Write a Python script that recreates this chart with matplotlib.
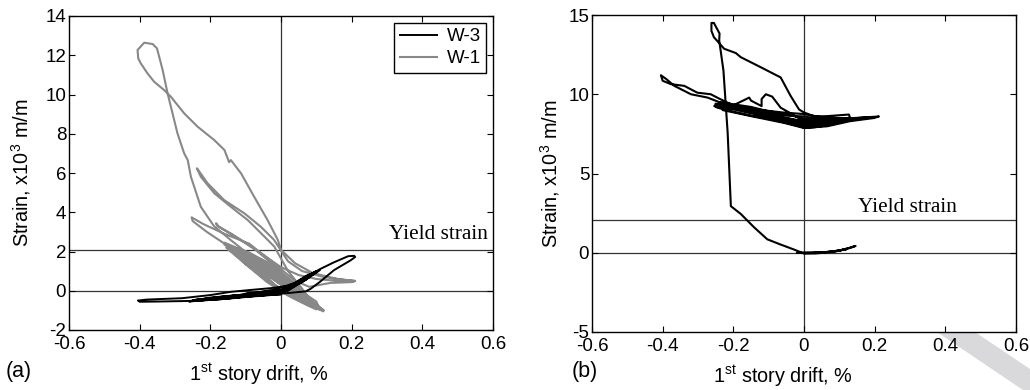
import numpy as np
import matplotlib
matplotlib.use("Agg")
import matplotlib.pyplot as plt
from matplotlib.patches import Polygon

plt.rcParams['font.family'] = ['Liberation Sans', 'DejaVu Sans']
plt.rcParams['mathtext.fontset'] = 'custom'
plt.rcParams['mathtext.rm'] = 'Liberation Sans'
plt.rcParams['axes.unicode_minus'] = False

# ---- data (drift %, strain x10^3) ----
yield_strain = 2.07

# W-1, panel (a): small cycles inside the dense band
w1_small = [
    (0.00, 0.00), (-0.04, 0.70), (-0.08, 1.30), (-0.10, 1.55), (-0.06, 0.85),
    (0.00, 0.00), (0.04, -0.40), (0.07, -0.65), (0.04, -0.25), (0.00, 0.35),
    (-0.06, 1.20), (-0.11, 1.80), (-0.14, 2.05), (-0.10, 1.35), (-0.04, 0.45),
    (0.02, -0.25), (0.07, -0.70), (0.10, -0.95), (0.08, -0.60), (0.03, 0.05),
    (-0.03, 0.95), (-0.09, 1.75), (-0.15, 2.20), (-0.12, 1.70), (-0.06, 0.80),
    (0.01, -0.10), (0.06, -0.55), (0.12, -1.05), (0.11, -0.85), (0.06, -0.20),
    (0.01, 0.60), (-0.05, 1.45), (-0.12, 2.15), (-0.16, 2.45), (-0.13, 1.95),
    (-0.08, 1.10), (-0.02, 0.30), (0.04, -0.35), (0.09, -0.80), (0.11, -0.95),
    (0.08, -0.55), (0.03, 0.20), (-0.03, 1.05), (-0.10, 1.85), (-0.15, 2.30),
    (-0.11, 1.55), (-0.05, 0.65), (0.02, -0.20), (0.08, -0.75), (0.12, -1.00),
]
# W-1, more cycles filling the grey band
w1_band = [
    (0.10, -0.70), (0.05, -0.20), (0.00, 0.35), (-0.05, 0.95), (-0.10, 1.55),
    (-0.15, 2.10), (-0.10, 1.80), (-0.05, 1.30), (0.00, 0.70), (0.05, 0.05),
    (0.10, -0.55), (0.11, -0.95), (0.10, -0.85), (0.05, -0.40), (0.00, 0.10),
    (-0.05, 0.70), (-0.10, 1.35), (-0.14, 2.10), (-0.10, 1.70), (-0.05, 1.10),
    (0.00, 0.50), (0.06, -0.30), (0.12, -1.00), (0.10, -0.90), (0.05, -0.50),
    (0.00, 0.00), (-0.06, 0.90), (-0.11, 1.50), (-0.155, 2.20), (-0.13, 2.15),
    (-0.08, 1.75), (-0.02, 1.10), (0.03, 0.40), (0.08, -0.35), (0.10, -0.75),
    (0.06, -0.35), (0.01, 0.20), (-0.04, 0.85), (-0.09, 1.45), (-0.15, 2.30),
    (-0.09, 1.95), (-0.03, 1.35), (0.02, 0.60), (0.07, -0.15), (0.09, -0.55),
    (0.05, -0.10), (0.00, 0.45), (-0.05, 1.05), (-0.10, 1.65), (-0.16, 2.35),
    (-0.12, 2.10), (-0.05, 1.55), (0.00, 0.95), (0.05, 0.20), (0.08, -0.60),
    (0.12, -0.98), (0.04, -0.15), (-0.02, 0.55), (-0.07, 1.20), (-0.12, 1.80),
    (-0.07, 1.45), (-0.02, 0.90), (0.03, 0.10), (0.07, -0.45), (0.11, -0.90),
]
# W-1, medium excursions (peaks at 3.4, 3.7 and 6.2)
w1_medium = [
    (0.07, -0.30), (0.03, 0.40), (-0.02, 1.30), (-0.08, 2.20), (-0.14, 2.90),
    (-0.18, 3.30), (-0.184, 3.44), (-0.175, 3.25), (-0.12, 2.65), (-0.06, 1.95),
    (0.00, 1.20), (0.05, 0.80), (0.10, 0.60), (0.16, 0.50), (0.207, 0.47),
    (0.20, 0.44), (0.14, 0.40), (0.08, 0.20), (0.04, 0.50), (-0.02, 1.40),
    (-0.09, 2.40), (-0.16, 2.90), (-0.22, 3.40), (-0.253, 3.74), (-0.25, 3.55),
    (-0.21, 3.00), (-0.16, 2.40), (-0.11, 1.80), (-0.05, 1.00), (0.00, 0.30),
    (0.05, -0.30), (0.09, -0.65), (0.06, 0.10), (0.02, 1.00), (-0.019, 2.25),
    (-0.047, 2.76), (-0.094, 3.60), (-0.142, 4.28), (-0.189, 4.97), (-0.227, 5.81),
    (-0.238, 6.24), (-0.231, 6.07), (-0.208, 5.48), (-0.161, 4.62), (-0.104, 3.95),
    (-0.057, 3.26), (-0.02, 2.60), (0.02, 1.50), (0.06, 1.00), (0.12, 0.70),
    (0.18, 0.55), (0.21, 0.50),
]
# W-1, the large excursion up to 12.6
w1_large = [
    (0.16, 0.60), (0.09, 0.90), (0.04, 1.40), (0.00, 2.08), (-0.009, 2.59),
    (-0.038, 3.60), (-0.076, 4.79), (-0.113, 5.98), (-0.142, 6.66), (-0.147, 6.55),
    (-0.16, 7.17), (-0.189, 7.68), (-0.236, 8.36), (-0.274, 9.04), (-0.312, 9.89),
    (-0.331, 10.23), (-0.359, 10.65), (-0.378, 11.08), (-0.397, 11.59), (-0.404, 11.84),
    (-0.406, 12.27), (-0.387, 12.64), (-0.363, 12.57), (-0.351, 12.35), (-0.345, 11.93),
    (-0.335, 11.25), (-0.321, 10.06), (-0.307, 9.04), (-0.293, 8.02), (-0.274, 7.00),
    (-0.264, 6.66), (-0.255, 5.81), (-0.227, 4.28), (-0.19, 3.30), (-0.14, 2.55),
    (-0.08, 1.70), (-0.02, 0.80), (0.04, 0.00), (0.08, -0.50), (0.10, -0.70),
]

# W-3, panel (a)
w3_cycles = [
    (0.00, 0.00), (-0.05, -0.05), (-0.10, -0.15), (-0.05, -0.10), (0.00, -0.05),
    (0.04, 0.30), (0.06, 0.45), (0.03, 0.20), (0.00, -0.10), (-0.08, -0.20),
    (-0.15, -0.30), (-0.20, -0.38), (-0.25, -0.50), (-0.24, -0.45), (-0.15, -0.28),
    (-0.05, -0.12), (0.00, 0.00), (0.05, 0.45), (0.08, 0.75), (0.10, 0.95),
    (0.07, 0.55), (0.04, 0.25), (0.00, -0.15), (-0.10, -0.30), (-0.20, -0.45),
    (-0.26, -0.55), (-0.20, -0.35), (-0.10, -0.18), (-0.02, 0.05), (0.04, 0.40),
    (0.10, 1.00), (0.08, 0.70), (0.05, 0.35), (0.02, 0.00), (-0.06, -0.20),
    (-0.15, -0.35), (-0.25, -0.50), (-0.18, -0.33), (-0.08, -0.15), (0.00, 0.02),
    (0.05, 0.50), (0.09, 0.85), (0.06, 0.50), (0.02, 0.10), (-0.05, -0.18),
    (-0.15, -0.40), (-0.25, -0.52), (-0.18, -0.45), (-0.10, -0.32), (0.00, -0.18),
    (-0.10, -0.28), (-0.20, -0.43), (-0.25, -0.48), (-0.15, -0.33), (-0.05, -0.20),
    (0.02, 0.15), (0.06, 0.60), (0.10, 1.00), (0.08, 0.70), (0.04, 0.40),
    (0.07, 0.75), (0.11, 1.05), (0.06, 0.45), (0.03, 0.30), (0.00, -0.10),
]
w3_large = [
    (0.00, -0.15), (-0.14, -0.37), (-0.26, -0.52), (-0.35, -0.55), (-0.40, -0.56),
    (-0.405, -0.50), (-0.38, -0.45), (-0.28, -0.38), (-0.20, -0.22), (-0.14, -0.05),
    (-0.08, 0.05), (-0.03, 0.13), (0.02, 0.25), (0.06, 0.55), (0.11, 1.10),
    (0.15, 1.45), (0.19, 1.76), (0.207, 1.78), (0.21, 1.72), (0.197, 1.55),
    (0.15, 1.05), (0.11, 0.45), (0.084, 0.10), (0.07, -0.03), (0.03, -0.10),
    (0.00, -0.15),
]

# panel (b)
wb_early = [
    (0.00, 0.00), (0.05, 0.02), (0.10, 0.12), (0.146, 0.43), (0.13, 0.30),
    (0.08, 0.05), (0.03, -0.05), (-0.02, 0.00), (0.04, 0.00), (0.09, 0.10),
    (0.12, 0.22), (0.07, 0.05), (0.00, -0.05), (-0.028, 0.20), (-0.07, 0.55),
    (-0.104, 0.85), (-0.141, 1.60), (-0.179, 2.45), (-0.207, 2.94), (-0.216, 7.55),
    (-0.228, 11.5), (-0.24, 13.4), (-0.239, 13.83), (-0.255, 14.5), (-0.262, 14.5),
    (-0.262, 14.0), (-0.255, 13.6), (-0.226, 12.87), (-0.193, 12.6), (-0.179, 12.34),
    (-0.122, 11.7), (-0.066, 11.06), (-0.038, 9.90), (-0.014, 9.04), (0.00, 8.85),
]
wb_band = [
    (0.03, 8.60), (0.066, 8.62), (0.127, 8.72), (0.13, 8.55), (0.08, 8.10),
    (0.03, 7.92), (0.00, 7.90), (-0.05, 8.20), (-0.10, 8.45), (-0.15, 8.65),
    (-0.20, 8.90), (-0.245, 9.15), (-0.254, 9.26), (-0.235, 9.50), (-0.198, 9.36),
    (-0.15, 9.20), (-0.103, 8.94), (-0.05, 8.75), (0.00, 8.45), (0.05, 8.35),
    (0.10, 8.40), (0.15, 8.50), (0.212, 8.60), (0.198, 8.50), (0.13, 8.30),
    (0.066, 7.98), (0.00, 7.87), (-0.056, 8.19), (-0.15, 8.62), (-0.23, 9.00),
    (-0.236, 9.47), (-0.273, 9.79), (-0.32, 10.00), (-0.367, 10.53), (-0.39, 10.96),
    (-0.405, 11.20), (-0.40, 10.85), (-0.377, 10.64), (-0.339, 10.53), (-0.302, 10.10),
    (-0.264, 10.00), (-0.236, 9.68), (-0.20, 9.30), (-0.155, 9.79), (-0.15, 9.60),
    (-0.12, 9.25), (-0.12, 9.70), (-0.108, 10.00), (-0.09, 9.85), (-0.066, 9.15),
    (-0.03, 8.70), (0.00, 8.30), (0.05, 8.10), (0.10, 8.25), (0.16, 8.45),
    (0.20, 8.55), (0.14, 8.45), (0.07, 8.20), (0.00, 8.10), (-0.06, 8.40),
    (-0.12, 8.75), (-0.18, 9.05), (-0.24, 9.30), (-0.17, 9.00), (-0.10, 8.70),
    (-0.04, 8.35), (0.02, 8.00), (0.08, 8.15), (0.12, 8.35), (0.06, 8.05),
    (0.00, 8.00), (-0.08, 8.55), (-0.16, 8.90), (-0.22, 9.20),
    (-0.25, 9.25), (-0.20, 9.05), (-0.15, 8.80), (-0.10, 8.55), (-0.05, 8.30),
    (0.00, 8.05), (0.05, 8.05), (0.10, 8.25), (0.15, 8.42), (0.18, 8.50),
    (0.12, 8.40), (0.06, 8.30), (0.00, 8.30), (-0.05, 8.50), (-0.10, 8.75),
    (-0.15, 9.00), (-0.20, 9.20), (-0.24, 9.35), (-0.18, 9.10), (-0.12, 8.70),
    (-0.06, 8.40), (0.00, 7.95), (0.05, 8.00), (0.11, 8.30), (0.17, 8.48),
    (0.10, 8.45), (0.04, 8.45), (0.00, 8.60), (-0.05, 8.65), (-0.10, 8.85),
    (-0.16, 9.10), (-0.22, 9.30), (-0.16, 8.95), (-0.10, 8.65), (-0.04, 8.45),
    (0.00, 8.20), (0.06, 8.20), (0.12, 8.38), (0.19, 8.55), (0.12, 8.48),
    (0.05, 8.55), (0.00, 8.75), (-0.06, 8.85), (-0.12, 9.00), (-0.19, 9.25),
    (-0.25, 9.40),
]

xticks = [-0.6, -0.4, -0.2, 0, 0.2, 0.4, 0.6]
xtick_labels = ['-0.6', '-0.4', '-0.2', '0', '0.2', '0.4', '0.6']
yticks_a = [-2, 0, 2, 4, 6, 8, 10, 12, 14]
yticks_b = [-5, 0, 5, 10, 15]


def xy(*parts):
    pts = np.array([p for part in parts for p in part])
    return pts[:, 0], pts[:, 1]


def style_axes(ax, yticks):
    ax.set_xlim(-0.6, 0.6)
    ax.set_xticks(xticks)
    ax.set_xticklabels(xtick_labels)
    ax.set_yticks(yticks)
    ax.set_ylim(yticks[0], yticks[-1])
    ax.tick_params(direction='in', top=True, right=True, length=4, width=0.8,
                   labelsize=13.5, colors='black')
    ax.tick_params(axis='x', pad=4)
    ax.tick_params(axis='y', pad=2)
    for s in ax.spines.values():
        s.set_linewidth(1.0)
    ax.axhline(0, color='#333333', lw=0.9, zorder=1)
    ax.axhline(yield_strain, color='#333333', lw=0.9, zorder=1)
    ax.axvline(0, color='#333333', lw=0.9, zorder=1)
    ax.set_xlabel(r'1$^{\mathrm{st}}$ story drift, %', fontsize=14.3)
    ax.set_ylabel(r'Strain, x10$^{3}$ m/m', fontsize=14.3)


fig = plt.figure(figsize=(10.3, 3.9), dpi=100)
ax1 = fig.add_axes([69 / 1030, 1 - 330 / 390, 424 / 1030, 314 / 390])
ax2 = fig.add_axes([592 / 1030, 1 - 332 / 390, 424 / 1030, 317 / 390])

# panel (a)
style_axes(ax1, yticks_a)
gx, gy = xy(w1_small, w1_band, w1_medium, w1_large)
l1, = ax1.plot(gx, gy, color='#888888', lw=1.5, zorder=2)
bx, by = xy(w3_cycles, w3_large)
l3, = ax1.plot(bx, by, color='black', lw=1.4, zorder=3)
ax1.legend([l3, l1], ['W-3', 'W-1'], loc='upper right', fontsize=13.5,
           frameon=True, fancybox=False, edgecolor='black', framealpha=1,
           handlelength=2.0, borderaxespad=0.35, labelspacing=0.25,
           handletextpad=0.5, borderpad=0.3).get_frame().set_linewidth(1.0)
ax1.text(0.586, 2.89, 'Yield strain', family='Liberation Serif', fontsize=15.3,
         ha='right', va='center')
ax1.xaxis.set_label_coords(0.448, -0.10)
ax1.yaxis.set_label_coords(-0.085, 0.5)

# panel (b)
style_axes(ax2, yticks_b)
rx, ry = xy(wb_early, wb_band)
ax2.plot(rx, ry, color='black', lw=1.5, zorder=3)
ax2.text(0.152, 2.87, 'Yield strain', family='Liberation Serif', fontsize=15.3,
         ha='left', va='center')
ax2.xaxis.set_label_coords(0.45, -0.098)
ax2.yaxis.set_label_coords(-0.071, 0.5)

fig.text(6 / 1030, 1 - 372 / 390, '(a)', fontsize=15.5, ha='left', va='center')
fig.text(572 / 1030, 1 - 372 / 390, '(b)', fontsize=15.5, ha='left', va='center')

# light grey diagonal stripe in the lower right corner
stripe = [(937, 332), (975, 332), (1030, 369), (1030, 390), (1023, 390)]
fig.add_artist(Polygon([(px / 1030, 1 - py / 390) for px, py in stripe],
                       closed=True, transform=fig.transFigure,
                       facecolor='#d9d9db', edgecolor='none', zorder=-1))

fig.savefig('out.png', dpi=100)
